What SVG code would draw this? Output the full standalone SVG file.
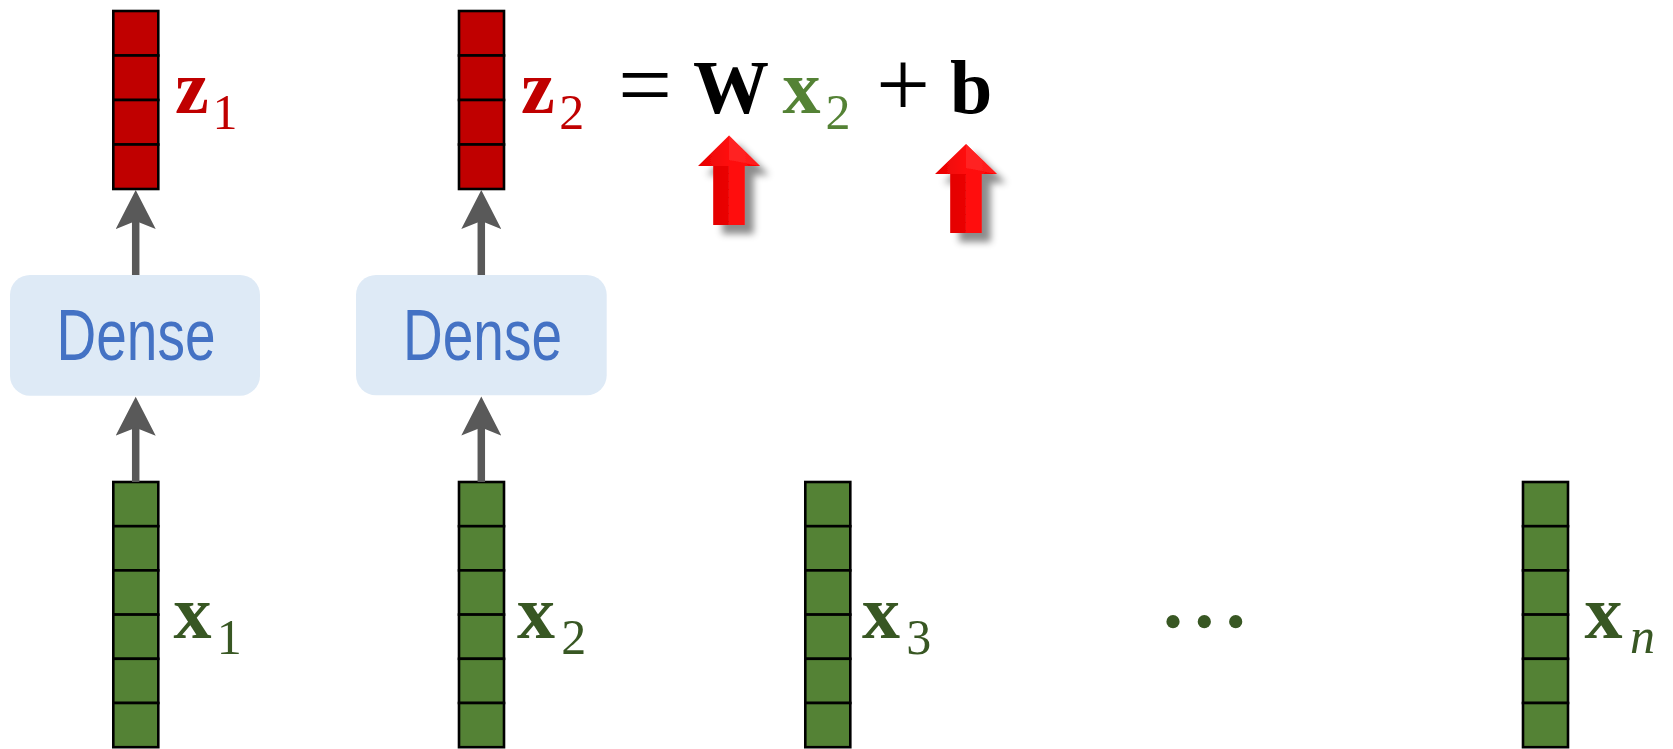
<svg xmlns="http://www.w3.org/2000/svg" width="1673" height="749" viewBox="0 0 1673 749">
<style>
.red rect{fill:#C00000;stroke:#000;stroke-width:2.6}
.grn rect{fill:#548235;stroke:#000;stroke-width:2.6}
.m{font-family:"Liberation Serif","DejaVu Serif",serif;font-weight:bold;font-size:76px}
.s{font-family:"Liberation Serif","DejaVu Serif",serif;font-size:50px;text-anchor:middle}
.op{font-family:"Liberation Serif","DejaVu Serif",serif;font-size:96px;text-anchor:middle;fill:#000}
.rl{fill:#C00000}
.gl{fill:#385723}
.box{fill:#DEEAF6}
.dense{font-family:"Liberation Sans","Arial",sans-serif;font-size:72px;fill:#4472C4;text-anchor:middle}
.conn line{stroke:#595959;stroke-width:7.5;marker-end:url(#ah)}
</style>
<defs>
<marker id="ah" markerUnits="userSpaceOnUse" viewBox="0 0 40 40" markerWidth="40" markerHeight="40" refX="9" refY="20" orient="auto">
<path d="M39,20 L0,0 L8,20 L0,40 Z" fill="#595959"/>
</marker>
<filter id="sh" x="-40%" y="-30%" width="200%" height="180%">
<feDropShadow dx="9" dy="9" stdDeviation="3.5" flood-color="#000" flood-opacity="0.45"/>
</filter>
<linearGradient id="rg" x1="0" y1="0" x2="1" y2="0">
<stop offset="0" stop-color="#e60000"/>
<stop offset="0.5" stop-color="#ff1010"/>
<stop offset="1" stop-color="#ff0000"/>
</linearGradient>
</defs>

<!-- red output vectors -->
<g id="z1" class="red">
<rect x="113.3" y="11" width="45" height="44.5"/>
<rect x="113.3" y="55.5" width="45" height="44.5"/>
<rect x="113.3" y="100" width="45" height="44.5"/>
<rect x="113.3" y="144.5" width="45" height="44.5"/>
<text class="m rl" x="175" y="112.5">z</text>
<text class="s rl" x="225" y="128.5">1</text>
</g>
<g id="z2" class="red">
<rect x="459" y="11" width="45" height="44.5"/>
<rect x="459" y="55.5" width="45" height="44.5"/>
<rect x="459" y="100" width="45" height="44.5"/>
<rect x="459" y="144.5" width="45" height="44.5"/>
<text class="m rl" x="521" y="112.5">z</text>
<text class="s rl" x="571.7" y="128.5">2</text>
</g>

<!-- equation -->
<g id="equation">
<text class="op" x="645" y="116.5">=</text>
<text class="m" x="693" y="113" fill="#000">W</text>
<text class="m" x="782.5" y="112.5" fill="#548235">x</text>
<text class="s" x="838" y="128.5" fill="#548235">2</text>
<text class="op" x="903" y="116">+</text>
<text class="m" x="950" y="113" fill="#000">b</text>
</g>

<!-- red highlight arrows -->
<g id="arrowW" filter="url(#sh)">
<path d="M729,135.5 L760,166 L744.7,166 L744.7,225 L713.3,225 L713.3,166 L698,166 Z" fill="url(#rg)"/>
<path d="M713.3,166 L729,166 L729,225 L713.3,225 Z" fill="#d80000" opacity="0.55"/>
<path d="M729,135.5 L760,166 L729,160 Z" fill="#ff3030" opacity="0.6"/>
</g>
<g id="arrowB" filter="url(#sh)">
<path d="M966,144 L997,174 L981.7,174 L981.7,233 L950.3,233 L950.3,174 L935,174 Z" fill="url(#rg)"/>
<path d="M950.3,174 L966,174 L966,233 L950.3,233 Z" fill="#d80000" opacity="0.55"/>
<path d="M966,144 L997,174 L966,168 Z" fill="#ff3030" opacity="0.6"/>
</g>

<!-- dense layers -->
<g id="dense1">
<rect class="box" x="10" y="275" width="250" height="120.7" rx="20"/>
<text class="dense" x="136" y="360" textLength="159" lengthAdjust="spacingAndGlyphs">Dense</text>
</g>
<g id="dense2">
<rect class="box" x="356" y="275" width="250.7" height="120.3" rx="20"/>
<text class="dense" x="482.5" y="359.5" textLength="159" lengthAdjust="spacingAndGlyphs">Dense</text>
</g>

<!-- input vectors -->
<g id="x1" class="grn">
<rect x="113.3" y="482" width="45" height="44.2"/>
<rect x="113.3" y="526.2" width="45" height="44.2"/>
<rect x="113.3" y="570.4" width="45" height="44.2"/>
<rect x="113.3" y="614.6" width="45" height="44.2"/>
<rect x="113.3" y="658.8" width="45" height="44.2"/>
<rect x="113.3" y="703" width="45" height="44.2"/>
<text class="m gl" x="173.5" y="638">x</text>
<text class="s gl" x="229.3" y="653.5">1</text>
</g>
<g id="x2" class="grn">
<rect x="459" y="482" width="45" height="44.2"/>
<rect x="459" y="526.2" width="45" height="44.2"/>
<rect x="459" y="570.4" width="45" height="44.2"/>
<rect x="459" y="614.6" width="45" height="44.2"/>
<rect x="459" y="658.8" width="45" height="44.2"/>
<rect x="459" y="703" width="45" height="44.2"/>
<text class="m gl" x="517" y="638.3">x</text>
<text class="s gl" x="573.7" y="654.3">2</text>
</g>
<g id="x3" class="grn">
<rect x="805.3" y="482" width="45" height="44.2"/>
<rect x="805.3" y="526.2" width="45" height="44.2"/>
<rect x="805.3" y="570.4" width="45" height="44.2"/>
<rect x="805.3" y="614.6" width="45" height="44.2"/>
<rect x="805.3" y="658.8" width="45" height="44.2"/>
<rect x="805.3" y="703" width="45" height="44.2"/>
<text class="m gl" x="862" y="638.3">x</text>
<text class="s gl" x="918.7" y="654.3">3</text>
</g>
<g id="ellipsis" fill="#385723">
<circle cx="1173" cy="621.7" r="6.6"/>
<circle cx="1204.3" cy="621.7" r="6.6"/>
<circle cx="1235.7" cy="621.7" r="6.6"/>
</g>
<g id="xn" class="grn">
<rect x="1523" y="482" width="45" height="44.2"/>
<rect x="1523" y="526.2" width="45" height="44.2"/>
<rect x="1523" y="570.4" width="45" height="44.2"/>
<rect x="1523" y="614.6" width="45" height="44.2"/>
<rect x="1523" y="658.8" width="45" height="44.2"/>
<rect x="1523" y="703" width="45" height="44.2"/>
<text class="m gl" x="1584.5" y="638.3">x</text>
<text class="s gl" x="1642.5" y="652.7" font-style="italic">n</text>
</g>

<!-- connectors -->
<g id="connectors" class="conn">
<line x1="135.7" y1="482" x2="135.7" y2="426.7"/>
<line x1="135.7" y1="275" x2="135.7" y2="220"/>
<line x1="481.3" y1="482" x2="481.3" y2="426.5"/>
<line x1="481.3" y1="275" x2="481.3" y2="220"/>
</g>
</svg>
